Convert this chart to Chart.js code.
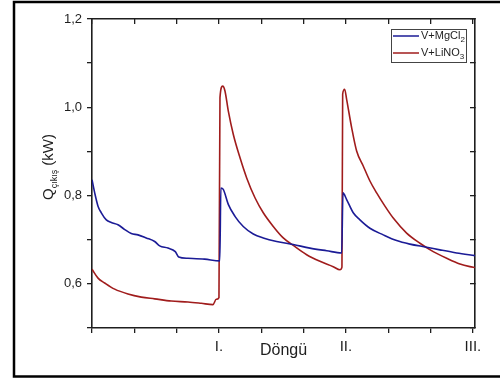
<!DOCTYPE html>
<html>
<head>
<meta charset="utf-8">
<script src="https://cdn.jsdelivr.net/npm/chart.js@4.4.1/dist/chart.umd.min.js"></script>
<style>
  html, body { margin: 0; padding: 0; background: #fff; }
  #wrap { width: 500px; height: 378px; }
</style>
</head>
<body>
<div id="wrap"><canvas id="qChart" width="500" height="378"></canvas></div>
<script>
// cycle position (I. = 3, II. = 6, III. = 9) and heat output in kW
const mgX = [0, 0.064, 0.142, 0.22, 0.338, 0.456, 0.614, 0.773, 0.928, 1.087, 1.283, 1.481, 1.599, 1.795, 1.968, 2.048, 2.268, 2.662, 3.02,
  3.045, 3.102, 3.22, 3.378, 3.574, 3.811, 4.047, 4.363, 4.756, 5.15, 5.545, 5.9,
  5.93, 6.017, 6.173, 6.331, 6.567, 6.882, 7.198, 7.512, 7.907, 8.221, 8.616, 9.048];
const mgQ = [0.836, 0.806, 0.776, 0.761, 0.745, 0.739, 0.734, 0.723, 0.714, 0.711, 0.704, 0.696, 0.686, 0.681, 0.673, 0.661, 0.658, 0.656, 0.652,
  0.817, 0.814, 0.780, 0.753, 0.730, 0.713, 0.704, 0.696, 0.689, 0.681, 0.675, 0.670,
  0.806, 0.791, 0.761, 0.745, 0.726, 0.711, 0.698, 0.690, 0.683, 0.677, 0.670, 0.664];

const liX = [0, 0.142, 0.3, 0.536, 0.85, 1.165, 1.481, 1.873, 2.268, 2.582, 2.858, 2.936, 3.0,
  3.024, 3.088, 3.142, 3.22, 3.338, 3.496, 3.655, 3.851, 4.047, 4.283, 4.519, 4.756, 5.072, 5.386, 5.7, 5.859, 5.906,
  5.923, 5.97, 6.017, 6.135, 6.253, 6.409, 6.567, 6.726, 6.922, 7.118, 7.434, 7.749, 8.063, 8.379, 8.694, 8.93, 9.048];
const liQ = [0.633, 0.613, 0.602, 0.588, 0.577, 0.570, 0.566, 0.561, 0.559, 0.556, 0.553, 0.565, 0.569,
  1.022, 1.048, 1.037, 0.992, 0.939, 0.886, 0.840, 0.795, 0.761, 0.730, 0.704, 0.687, 0.666, 0.651, 0.639, 0.632, 0.638,
  1.030, 1.041, 1.018, 0.954, 0.901, 0.867, 0.833, 0.806, 0.776, 0.749, 0.715, 0.692, 0.673, 0.658, 0.645, 0.639, 0.637];

const cycleLabels = ['', '', '', 'I.', '', '', 'II.', '', '', 'III.'];
const seriesNames = [['V+MgCl', '2'], ['V+LiNO', '3']];
const seriesColors = ['#1b1b96', '#a01c1c'];

const FONT = "'Liberation Sans', Arial, sans-serif";
const INK = '#1e1e1e';

const toPts = (xs, ys) => xs.map((x, i) => ({ x: x, y: ys[i] }));

const decor = {
  id: 'decor',
  beforeDraw(chart) {
    const ctx = chart.ctx;
    ctx.save();
    ctx.fillStyle = '#fff';
    ctx.fillRect(0, 0, chart.width, chart.height);
    ctx.restore();
  },
  afterDraw(chart) {
    const ctx = chart.ctx;
    const a = chart.chartArea;
    ctx.save();
    // outer frame
    ctx.strokeStyle = '#000';
    ctx.lineWidth = 2.5;
    ctx.beginPath();
    ctx.moveTo(500, 2);
    ctx.lineTo(14, 2);
    ctx.lineTo(14, 376.5);
    ctx.lineTo(500, 376.5);
    ctx.stroke();

    // y title with subscript
    ctx.fillStyle = INK;
    ctx.translate(53, 200);
    ctx.rotate(-Math.PI / 2);
    ctx.textBaseline = 'alphabetic';
    ctx.textAlign = 'left';
    ctx.font = '15px ' + FONT;
    ctx.fillText('Q', 0, 0);
    let w = ctx.measureText('Q').width;
    ctx.font = '9px ' + FONT;
    ctx.fillText('çıkış', w, 4);
    w += ctx.measureText('çıkış').width;
    ctx.font = '15px ' + FONT;
    ctx.fillText(' (kW)', w, 0);
    ctx.restore();

    // legend box
    ctx.save();
    const bx = a.right - 84, by = a.top + 10, bw = 75, bh = 33;
    ctx.fillStyle = '#fff';
    ctx.fillRect(bx, by, bw, bh);
    ctx.strokeStyle = '#444';
    ctx.lineWidth = 1;
    ctx.strokeRect(bx + 0.5, by + 0.5, bw, bh);
    chart.data.datasets.forEach((ds, i) => {
      const ly = by + 7 + i * 17;
      ctx.strokeStyle = ds.borderColor;
      ctx.lineWidth = 1.5;
      ctx.beginPath();
      ctx.moveTo(bx + 2, ly);
      ctx.lineTo(bx + 28, ly);
      ctx.stroke();
      ctx.fillStyle = INK;
      ctx.textBaseline = 'middle';
      ctx.font = '11px ' + FONT;
      ctx.fillText(seriesNames[i][0], bx + 30, ly);
      const tw = ctx.measureText(seriesNames[i][0]).width;
      ctx.font = '8px ' + FONT;
      ctx.fillText(seriesNames[i][1], bx + 30 + tw, ly + 4);
    });
    ctx.restore();
  }
};

const lineSet = (label, pts, color) => ({
  label: label,
  data: pts,
  borderColor: color,
  backgroundColor: color,
  borderWidth: 1.6,
  pointRadius: 0,
  cubicInterpolationMode: 'monotone',
  fill: false
});

const tickGrid = (len) => ({
  drawOnChartArea: false,
  drawTicks: true,
  tickLength: len,
  color: INK,
  lineWidth: 1.3
});
const axisBorder = { display: true, color: INK, width: 1.6 };

new Chart(document.getElementById('qChart'), {
  type: 'line',
  data: {
    datasets: [
      lineSet(seriesNames[0].join(''), toPts(mgX, mgQ), seriesColors[0]),
      lineSet(seriesNames[1].join(''), toPts(liX, liQ), seriesColors[1])
    ]
  },
  options: {
    responsive: false,
    animation: false,
    layout: { padding: { left: 0, top: 19, right: 25, bottom: 0 } },
    plugins: { legend: { display: false }, tooltip: { enabled: false } },
    scales: {
      x: {
        type: 'linear', position: 'bottom', min: 0, max: 9.05,
        grid: tickGrid(5), border: axisBorder,
        ticks: {
          stepSize: 1, includeBounds: false, autoSkip: false, maxRotation: 0,
          padding: 5, color: INK, font: { family: FONT, size: 15 },
          callback: (v) => cycleLabels[Math.round(v)] || ''
        },
        title: { display: true, text: 'Döngü', color: INK, font: { family: FONT, size: 16 }, padding: { top: 0, bottom: 18 } },
        afterFit: (s) => { s.height = 50; }
      },
      x2: {
        type: 'linear', position: 'top', min: 0, max: 9.05,
        grid: tickGrid(-5), border: axisBorder,
        ticks: { display: false, stepSize: 1, includeBounds: false },
        afterFit: (s) => { s.height = 0; }
      },
      y: {
        type: 'linear', position: 'left', min: 0.5, max: 1.2,
        grid: tickGrid(5), border: axisBorder,
        ticks: {
          stepSize: 0.1, padding: 5, color: INK, font: { family: FONT, size: 13 },
          callback: (v) => (Math.round(v * 10) % 2 === 0 ? v.toFixed(1).replace('.', ',') : '')
        },
        afterFit: (s) => { s.width = 92; }
      },
      y2: {
        type: 'linear', position: 'right', min: 0.5, max: 1.2,
        grid: tickGrid(-5), border: axisBorder,
        ticks: { display: false, stepSize: 0.1 },
        afterFit: (s) => { s.width = 0; }
      }
    }
  },
  plugins: [decor]
});
</script>
</body>
</html>
